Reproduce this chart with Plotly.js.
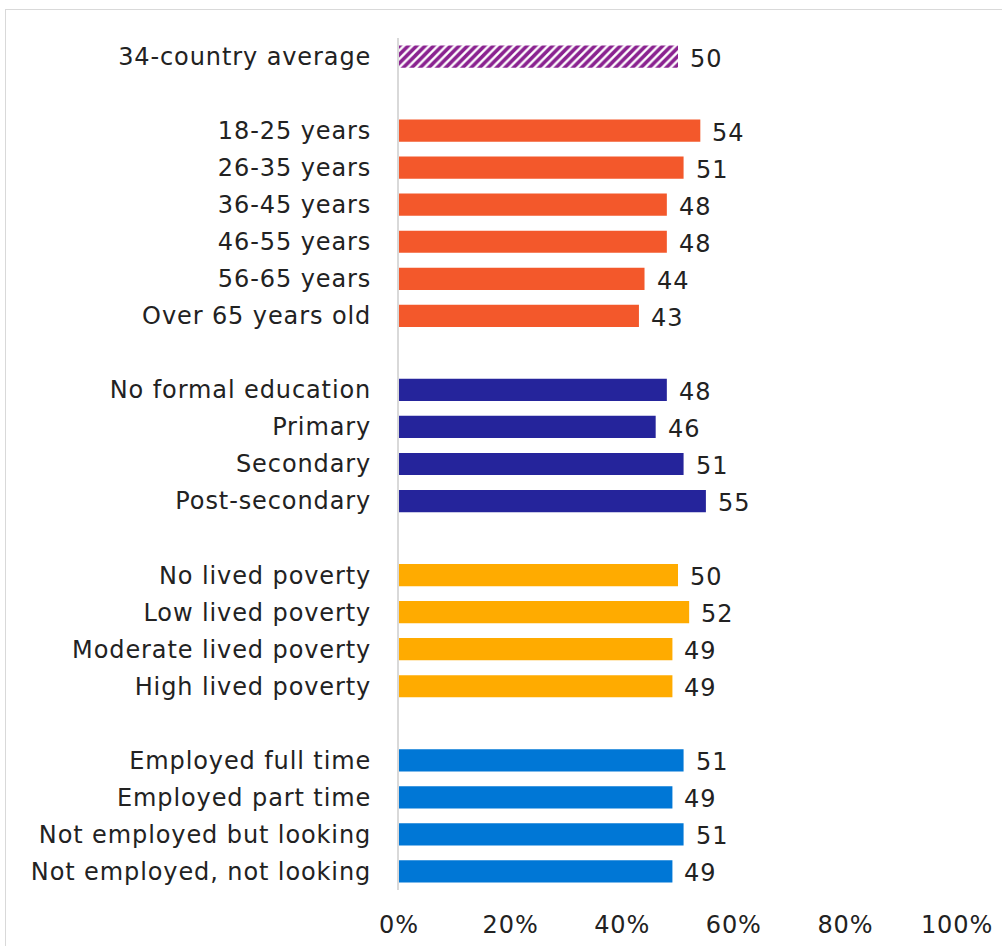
<!DOCTYPE html>
<html><head><meta charset="utf-8">
<script src="https://cdn.plot.ly/plotly-3.0.1.min.js"></script>
<style>
html,body{margin:0;padding:0;overflow:hidden;background:#fff;width:1002px;height:946px;}
#frame{position:absolute;left:5px;top:9px;width:1200px;height:1200px;border:1px solid #d9d9d9;box-sizing:border-box;}
#chart{position:absolute;left:0;top:0;width:1002px;height:946px;}
#chart .ytick text, #chart .xtick text, #chart .annotation-text {letter-spacing: 0.9px;}
</style></head>
<body><div id="frame"></div><div id="chart"></div>
<script>
// Data
const averageLabel = ["34-country average"];
const averageValues = [50];
const ageLabels = ["18-25 years","26-35 years","36-45 years","46-55 years","56-65 years","Over 65 years old"];
const ageValues = [54,51,48,48,44,43];
const eduLabels = ["No formal education","Primary","Secondary","Post-secondary"];
const eduValues = [48,46,51,55];
const povLabels = ["No lived poverty","Low lived poverty","Moderate lived poverty","High lived poverty"];
const povValues = [50,52,49,49];
const empLabels = ["Employed full time","Employed part time","Not employed but looking","Not employed, not looking"];
const empValues = [51,49,51,49];
const xTickVals = [0,20,40,60,80,100];
const xTickText = ["0%","20%","40%","60%","80%","100%"];

const groups = [
  {labels: averageLabel, values: averageValues, color: "#8a2290", hatch: true},
  {labels: ageLabels, values: ageValues, color: "#f3582b"},
  {labels: eduLabels, values: eduValues, color: "#25249b"},
  {labels: povLabels, values: povValues, color: "#ffab00"},
  {labels: empLabels, values: empValues, color: "#0077d6"}
];

const FONT = "DejaVu Sans, sans-serif";
const FS = 24;
const TXT = "#222222";
const traces = [];
const annotations = [];
const tickvals = [], ticktext = [];
let slot = 0;
groups.forEach((g, gi) => {
  if (gi > 0) slot += 1; // blank spacer row
  const ys = g.labels.map((_, i) => slot + i);
  slot += g.labels.length;
  ys.forEach((y, i) => { tickvals.push(y); ticktext.push(g.labels[i]); });
  const marker = {color: g.color};
  if (g.hatch) {
    marker.color = "#ffffff";
    marker.pattern = {shape: "/", fgcolor: g.color, bgcolor: "#ffffff", fgopacity: 1, size: 6, solidity: 0.6, fillmode: "replace"};
  }
  traces.push({
    type: "bar", orientation: "h", x: g.values, y: ys, width: 0.6,
    marker: marker, hoverinfo: "skip", showlegend: false
  });
  ys.forEach((y, i) => annotations.push({
    x: g.values[i], y: y, xref: "x", yref: "y", text: String(g.values[i]),
    showarrow: false, xanchor: "left", yanchor: "middle", xshift: 11, yshift: -2,
    font: {family: FONT, size: FS, color: TXT}
  }));
});
const nSlots = slot;

const layout = {
  width: 1002, height: 946,
  margin: {l: 399, r: 45, t: 38, b: 56},
  paper_bgcolor: "rgba(0,0,0,0)", plot_bgcolor: "rgba(0,0,0,0)",
  bargap: 0.4,
  xaxis: {
    range: [0, 100], tickvals: xTickVals, ticktext: xTickText,
    showgrid: false, zeroline: false, showline: false,
    ticks: "", ticklabelstandoff: 18,
    tickfont: {family: FONT, size: FS, color: TXT}, fixedrange: true
  },
  yaxis: {
    range: [nSlots - 0.5, -0.5], tickvals: tickvals, ticktext: ticktext,
    showgrid: false, zeroline: false, showline: true, linecolor: "#d9d9d9", linewidth: 2,
    ticks: "", ticklabelstandoff: 21,
    tickfont: {family: FONT, size: FS, color: TXT}, fixedrange: true
  },
  annotations: annotations
};
Plotly.newPlot("chart", traces, layout, {displayModeBar: false, staticPlot: true});
</script></body></html>
